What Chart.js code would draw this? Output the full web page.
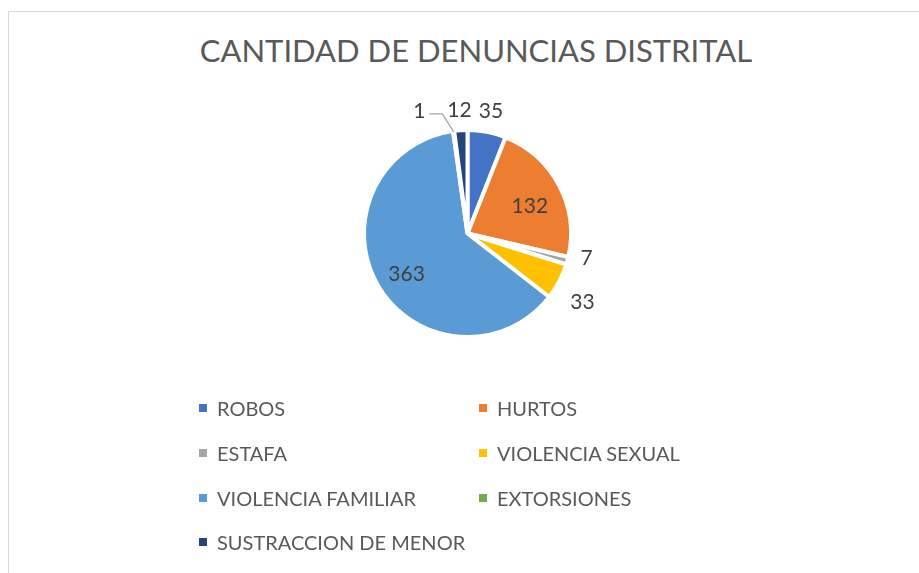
<!DOCTYPE html>
<html>
<head>
<meta charset="utf-8">
<script src="https://cdn.jsdelivr.net/npm/chart.js@4.4.1/dist/chart.umd.min.js"></script>
<style>
  html, body { margin: 0; padding: 0; background: #fff; overflow: hidden; }
  body { width: 919px; height: 573px; position: relative; font-family: Lato, 'Open Sans', sans-serif; }
  #frame { position: absolute; left: 8px; top: 11px; width: 930px; height: 600px; border: 1px solid #d9d9d9; box-sizing: border-box; }
  #title { position: absolute; left: 476px; top: 30px; transform: translateX(-50%); white-space: nowrap;
           font-size: 31px; line-height: 40px; color: #595959; }
  #chartBox { position: absolute; left: 0; top: 0; width: 919px; height: 573px; }
  #legend { position: absolute; left: 199px; top: 386px; display: grid; grid-template-columns: 280px 280px; grid-auto-rows: 44.7px; }
  .item { display: flex; align-items: center; font-size: 20px; color: #595959; white-space: nowrap; }
  .swatch { width: 8px; height: 8px; margin-right: 10px; flex: none; }
</style>
</head>
<body>
<div id="frame"></div>
<div id="title">CANTIDAD DE DENUNCIAS DISTRITAL</div>
<div id="chartBox"><canvas id="pie"></canvas></div>
<div id="legend"></div>
<script>
// Denuncias por tipo (distrital)
const CATEGORIES = ['ROBOS', 'HURTOS', 'ESTAFA', 'VIOLENCIA SEXUAL', 'VIOLENCIA FAMILIAR', 'EXTORSIONES', 'SUSTRACCION DE MENOR'];
const VALUES = [35, 132, 7, 33, 363, 1, 12];
const COLORS = ['#4472C4', '#ED7D31', '#A5A5A5', '#FFC000', '#5B9BD5', '#70AD47', '#264478'];

const LABEL_FONT = '21px Lato, "Open Sans", sans-serif';
const CAP = 15; // approx digit height at that size

// data labels: big slices inside, small ones outside; collisions resolved roughly like Excel
const sliceLabels = {
    id: 'sliceLabels',
    afterDatasetsDraw(chart) {
        const ctx = chart.ctx;
        const arcs = chart.getDatasetMeta(0).data;
        const total = VALUES.reduce((a, b) => a + b, 0);
        ctx.save();
        ctx.font = LABEL_FONT;
        ctx.textAlign = 'center';
        ctx.textBaseline = 'alphabetic';
        const placed = arcs.map((arc, i) => {
            const p = arc.getProps(['x', 'y', 'startAngle', 'endAngle', 'outerRadius'], true);
            const mid = (p.startAngle + p.endAngle) / 2;
            const cx = Math.cos(mid), sy = Math.sin(mid);
            const text = String(VALUES[i]);
            const w = ctx.measureText(text).width;
            const inside = VALUES[i] / total > 0.15;
            let d;
            if (inside) d = p.outerRadius * 0.68;
            else d = p.outerRadius + 12 + Math.abs(cx) * w / 2 + Math.abs(sy) * CAP / 2;
            return { text, w, x: p.x + cx * d, y: p.y + sy * d + (inside ? 5 : 0), inside, side: Math.abs(cx) > 0.7,
                     moved: false, ex: p.x + cx * (p.outerRadius - 1), ey: p.y + sy * (p.outerRadius - 1) };
        });
        // side labels stacked on top of each other: spread them vertically
        for (let i = 0; i < placed.length - 1; i++) {
            const a = placed[i], b = placed[i + 1];
            if (a.inside || b.inside || !a.side || !b.side) continue;
            const overlapX = Math.abs(a.x - b.x) < (a.w + b.w) / 2;
            if (overlapX && Math.abs(a.y - b.y) < 44) {
                const m = (a.y + b.y) / 2, s = a.y < b.y ? 1 : -1;
                a.y = m - s * 22;
                b.y = m + s * 22;
            }
        }
        // top labels colliding: push the earlier one left and add a leader line
        for (let i = placed.length - 1; i >= 0; i--) {
            const a = placed[i];
            if (a.inside || a.side) continue;
            for (let j = i + 1; j < placed.length; j++) {
                const b = placed[j];
                if (b.inside || b.side) continue;
                const overlapX = Math.abs(a.x - b.x) < (a.w + b.w) / 2 + 2;
                const overlapY = Math.abs(a.y - b.y) < CAP + 2;
                if (overlapX && overlapY) {
                    a.x = b.x - b.w / 2 - 22 - a.w / 2;
                    a.moved = true;
                }
            }
        }
        placed.forEach(l => {
            if (l.moved) {
                ctx.strokeStyle = '#A6A6A6';
                ctx.lineWidth = 1.3;
                ctx.beginPath();
                ctx.moveTo(l.x + l.w / 2 + 4, l.y + 3);
                ctx.lineTo(l.x + l.w / 2 + 17, l.y + 3);
                ctx.lineTo(l.ex, l.ey);
                ctx.stroke();
            }
            ctx.fillStyle = '#404040';
            ctx.fillText(l.text, l.x, l.y + CAP / 2);
        });
        ctx.restore();
    }
};

new Chart(document.getElementById('pie'), {
    type: 'pie',
    data: {
        labels: CATEGORIES,
        datasets: [{
            data: VALUES,
            backgroundColor: COLORS,
            borderColor: '#ffffff',
            borderWidth: 4
        }]
    },
    options: {
        responsive: true,
        maintainAspectRatio: false,
        animation: false,
        events: [],
        layout: { padding: { left: 362, right: 346, top: 128, bottom: 234 } },
        plugins: {
            legend: { display: false },
            title: { display: false },
            tooltip: { enabled: false }
        }
    },
    plugins: [sliceLabels]
});

const legend = document.getElementById('legend');
CATEGORIES.forEach((name, i) => {
    const item = document.createElement('div');
    item.className = 'item';
    item.innerHTML = `<span class="swatch" style="background:${COLORS[i]}"></span><span>${name}</span>`;
    legend.appendChild(item);
});
</script>
</body>
</html>
